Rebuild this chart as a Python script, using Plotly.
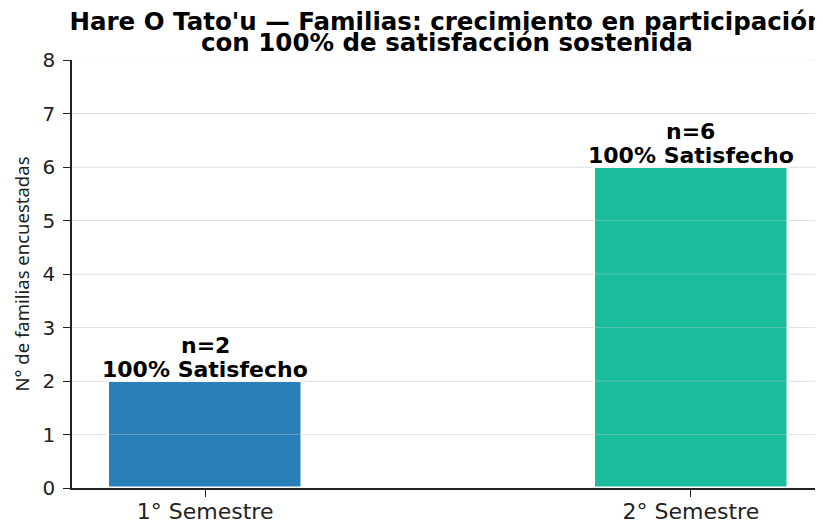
import plotly.graph_objects as go

categories = ["1° Semestre", "2° Semestre"]
familias = [2, 6]
satisfaccion = ["100% Satisfecho", "100% Satisfecho"]
colors = ["#2980b9", "#1abc9c"]
y_ticks = [0, 1, 2, 3, 4, 5, 6, 7, 8]
title_line1 = "Hare O Tato'u — Familias: crecimiento en participación"
title_line2 = "con 100% de satisfacción sostenida"
y_label = "N° de familias encuestadas"

FONT = "DejaVu Sans"
AXC = "#222222"

fig = go.Figure()
fig.add_trace(go.Bar(
    x=list(range(len(categories))),
    y=familias,
    width=0.4,
    marker=dict(color=colors, line=dict(color="white", width=2.5)),
    showlegend=False,
))

# faint gridlines drawn over the bars (as in the reference)
for t in y_ticks[1:]:
    fig.add_shape(type="line", xref="paper", yref="y", x0=0, x1=1, y0=t, y1=t,
                  line=dict(color="rgba(205,205,205,0.35)", width=1), layer="above")

for i, (v, s) in enumerate(zip(familias, satisfaccion)):
    fig.add_annotation(
        x=i, y=v, xref="x", yref="y", text=f"<b>n={v}</b>",
        showarrow=False, yanchor="bottom", yshift=21,
        font=dict(family=FONT, size=22, color="black"),
    )
    fig.add_annotation(
        x=i, y=v, xref="x", yref="y", text=f"<b>{s}</b>",
        showarrow=False, yanchor="bottom", yshift=-3,
        font=dict(family=FONT, size=22, color="black"),
    )

fig.add_annotation(
    x=0.5, y=1, xref="paper", yref="paper", text=f"<b>{title_line2}</b>",
    showarrow=False, yanchor="bottom", yshift=1,
    font=dict(family=FONT, size=24.5, color="black"),
)

fig.update_layout(
    width=823, height=521,
    margin=dict(l=64, r=9, t=52, b=41, autoexpand=False),
    paper_bgcolor="white", plot_bgcolor="white",
    title=dict(
        text=f"<b>{title_line1}</b>",
        xref="paper", x=0.5, xanchor="center",
        yref="paper", y=1, yanchor="bottom", pad=dict(b=30),
        automargin=False,
        font=dict(family=FONT, size=24.5, color="black"),
    ),
    font=dict(family=FONT, color=AXC),
    bargap=0,
)
fig.update_xaxes(
    range=[-0.274, 1.27], automargin=False,
    tickvals=list(range(len(categories))), ticktext=categories,
    showline=True, linecolor=AXC, linewidth=1.5,
    ticks="outside", ticklen=7, tickcolor=AXC, tickwidth=1.3,
    ticklabelstandoff=-4,
    showgrid=False, zeroline=False,
    tickfont=dict(family=FONT, size=22, color=AXC),
)
fig.update_yaxes(
    range=[0, 8], tickvals=y_ticks, automargin=False,
    showline=True, linecolor=AXC, linewidth=1.5,
    ticks="outside", ticklen=7, tickcolor=AXC, tickwidth=1.3,
    ticklabelstandoff=4,
    showgrid=True, gridcolor="#ebebeb", gridwidth=1,
    zeroline=False,
    tickfont=dict(family=FONT, size=20, color=AXC),
    title=dict(text=y_label, standoff=8,
               font=dict(family="Noto Sans", size=18.5, color=AXC)),
)

fig.write_html("out.html")
